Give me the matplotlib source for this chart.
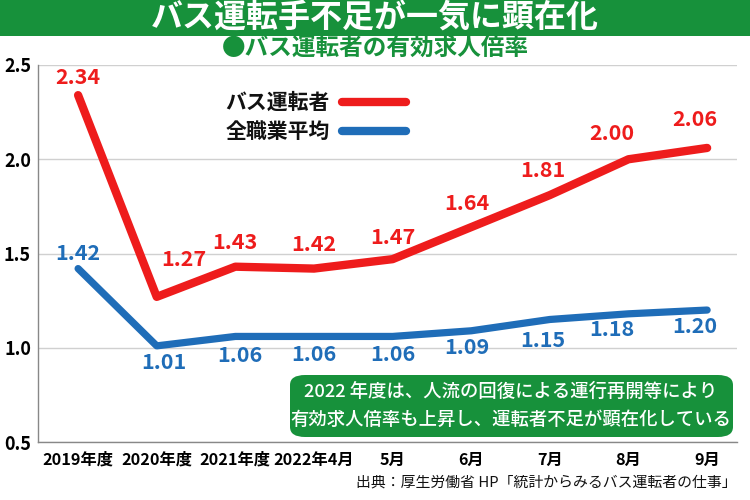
import matplotlib.pyplot as plt
from matplotlib.patches import Rectangle, FancyBboxPatch

plt.rcParams['font.family'] = ['Noto Sans CJK JP', 'DejaVu Sans']

categories = ["2019年度", "2020年度", "2021年度", "2022年4月", "5月", "6月", "7月", "8月", "9月"]
bus_driver = [2.34, 1.27, 1.43, 1.42, 1.47, 1.64, 1.81, 2.00, 2.06]
all_jobs = [1.42, 1.01, 1.06, 1.06, 1.06, 1.09, 1.15, 1.18, 1.20]
y_ticks = [0.5, 1.0, 1.5, 2.0, 2.5]

RED = "#EE1C1C"
BLUE = "#1F6DB8"
GREEN = "#17913B"

# label offsets in pixels (dx, dy)
red_off = [(0, 18), (27, 37), (0, 24), (0, 24), (0, 22), (-4, 24), (-7, 25), (-17, 26), (-12, 28)]
blue_off = [(0, 15), (7, -17), (5, -19), (0, -18), (0, -18), (-4, -17), (-7, -21), (-17, -16), (-12, -16)]

fig = plt.figure(figsize=(7.5, 5), dpi=100)
W, H = 750, 500

# title band
fig.patches.append(Rectangle((0, 1 - 36 / H), 1, 36 / H, transform=fig.transFigure,
                             facecolor=GREEN, edgecolor="none", zorder=0))
fig.text(0.5, 1 - 18 / H, "バス運転手不足が一気に顕在化", color="white", fontsize=23,
         fontweight="bold", ha="center", va="center")
fig.text(0.5, 1 - 48 / H, "●バス運転者の有効求人倍率", color=GREEN, fontsize=17,
         fontweight="bold", ha="center", va="center")

ax = fig.add_axes([38 / W, 58 / H, 699 / W, 377 / H])
x = list(range(len(categories)))
ax.plot(x, all_jobs, color=BLUE, lw=5.2, solid_capstyle="round", solid_joinstyle="round", zorder=3)
ax.plot(x, bus_driver, color=RED, lw=6, solid_capstyle="round", solid_joinstyle="round", zorder=4)

for i, v in enumerate(bus_driver):
    ax.annotate(f"{v:.2f}", (i, v), xytext=red_off[i], textcoords="offset pixels",
                ha="center", va="center", color=RED, fontsize=15.5, fontweight="bold")
for i, v in enumerate(all_jobs):
    ax.annotate(f"{v:.2f}", (i, v), xytext=blue_off[i], textcoords="offset pixels",
                ha="center", va="center", color=BLUE, fontsize=15.5, fontweight="bold")

ax.set_xlim(-0.51, 8.38)
ax.set_ylim(0.5, 2.5)
ax.set_yticks(y_ticks)
ax.set_yticklabels([f"{t:.1f}" for t in y_ticks], fontsize=13, fontweight="bold")
ax.set_xticks(x)
ax.set_xticklabels(categories, fontsize=11.7, fontweight="bold")
ax.tick_params(length=0, pad=7)
ax.tick_params(axis="y", pad=5)
ax.grid(axis="y", color="#d0d0d0", lw=1)
for s in ["top", "right"]:
    ax.spines[s].set_visible(False)
for s in ["left", "bottom"]:
    ax.spines[s].set_color("#888888")
    ax.spines[s].set_linewidth(1)
ax.set_axisbelow(True)

# legend
leg_items = [("バス運転者", RED, 102), ("全職業平均", BLUE, 131)]
for name, col, ypix in leg_items:
    fy = 1 - ypix / H
    fig.text(330 / W, fy, name, ha="right", va="center", fontsize=15, fontweight="bold", color="#111111")
    fig.add_artist(plt.Line2D([342 / W, 406 / W], [fy, fy], color=col, lw=6,
                              solid_capstyle="round", transform=fig.transFigure))

# note box
box = FancyBboxPatch((290 / W, 1 - 437 / H), 443 / W, 62 / H,
                     boxstyle="round,pad=0,rounding_size=0.02", transform=fig.transFigure,
                     facecolor=GREEN, edgecolor="none", zorder=5)
fig.patches.append(box)
fig.text(511 / W, 1 - 392 / H, "2022 年度は、人流の回復による運行再開等により", color="white",
         fontsize=13.2, fontweight="medium", ha="center", va="center", zorder=6)
fig.text(511 / W, 1 - 420 / H, "有効求人倍率も上昇し、運転者不足が顕在化している", color="white",
         fontsize=13.2, fontweight="medium", ha="center", va="center", zorder=6)

fig.text(737 / W, 1 - 483 / H, "出典：厚生労働省 HP「統計からみるバス運転者の仕事」", ha="right", va="center",
         fontsize=10.7, color="#111111")

fig.savefig("out.png", dpi=100)
